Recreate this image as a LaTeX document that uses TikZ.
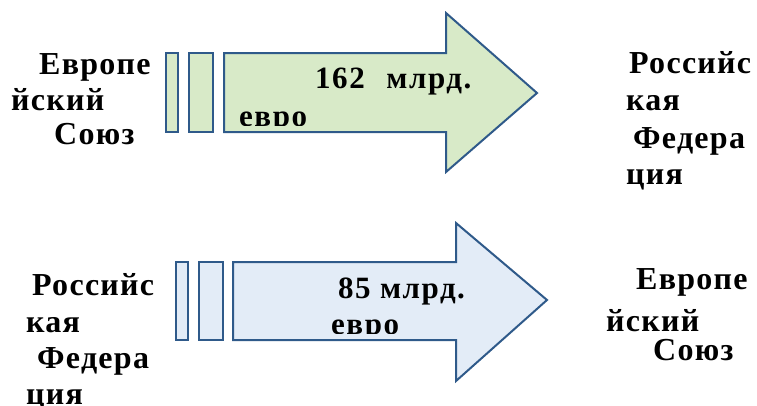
\documentclass[tikz,border=0pt]{standalone}
\usepackage{fontspec}
\setmainfont{Liberation Serif}
\newfontfamily\widefont{Liberation Serif}[LetterSpace=4]
\newfontfamily\sumfont{Liberation Serif}[LetterSpace=5]
\usetikzlibrary{positioning}

\definecolor{arrline}{HTML}{2F5A8A}
\definecolor{arrgreen}{HTML}{D8EAC8}
\definecolor{arrblue}{HTML}{E3ECF7}

\begin{document}
\begin{tikzpicture}[x=1pt,y=-1pt]

\tikzset{box/.style = {draw=arrline, line width=2pt, line join=miter}}
\tikzset{lbl/.style = {font=\widefont\bfseries\fontsize{32}{38}\selectfont, anchor=base west, inner sep=0pt}}
\tikzset{sum/.style = {font=\sumfont\bfseries\fontsize{31}{37}\selectfont, anchor=base west, inner sep=0pt}}

\useasboundingbox (0,0) rectangle (757,405);

%upper arrow
\draw[box, fill=arrgreen] (166,53) rectangle (178,132);
\draw[box, fill=arrgreen] (189,53) rectangle (213,132);
\draw[box, fill=arrgreen] (224,53) -- (446,53) -- (446,13) -- (537,93)
  -- (446,172) -- (446,132) -- (224,132) -- cycle;
\node[sum] (up1) at (315,88) {162\hspace{0.7em}млрд.};
\begin{scope}
\clip (226,55) rectangle (444,125);
\node[sum] (up2) at (239,126) {евро};
\end{scope}

%lower arrow
\draw[box, fill=arrblue] (176,262) rectangle (188,340);
\draw[box, fill=arrblue] (199,262) rectangle (223,340);
\draw[box, fill=arrblue] (233,262) -- (456,262) -- (456,223) -- (547,300)
  -- (456,381) -- (456,340) -- (233,340) -- cycle;
\node[sum] (dn1) at (338,298) {85 млрд.};
\begin{scope}
\clip (235,264) rectangle (454,333);
\node[sum] (dn2) at (331,334) {евро};
\end{scope}

%labels
\node[lbl] (eu1) at (39,74) {Европе};
\node[lbl] (eu2) at (11,110) {йский};
\node[lbl] (eu3) at (54,144) {Союз};

\node[lbl] (ru1) at (629,73) {Российс};
\node[lbl] (ru2) at (626,110) {кая};
\node[lbl] (ru3) at (633,148) {Федера};
\node[lbl] (ru4) at (626,184) {ция};

\node[lbl] (ru5) at (32,295) {Российс};
\node[lbl] (ru6) at (26,332) {кая};
\node[lbl] (ru7) at (37,368) {Федера};
\node[lbl] (ru8) at (26,404) {ция};

\node[lbl] (eu4) at (636,289) {Европе};
\node[lbl] (eu5) at (606,331) {йский};
\node[lbl] (eu6) at (653,360) {Союз};

\end{tikzpicture}
\end{document}
